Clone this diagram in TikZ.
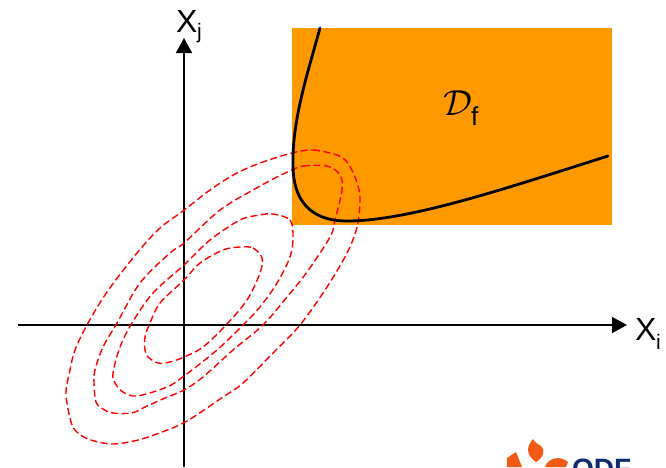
\documentclass[tikz,border=0pt]{standalone}
\usepackage{fontspec}
\setmainfont{Liberation Sans}
\usetikzlibrary{arrows.meta}
\definecolor{regionorange}{RGB}{255,153,0}
\definecolor{logoorange}{RGB}{240,90,20}
\definecolor{logoblue}{RGB}{15,45,110}
\tikzset{
  axis/.style={line width=1.5pt,-{Triangle[length=15pt,width=16pt]}},
  contour/.style={red,line width=1.4pt,dash pattern=on 7pt off 3.5pt,smooth cycle,tension=0.55},
  boundary/.style={black,line width=2.8pt,line cap=round},
  axislabel/.style={inner sep=0pt,font=\fontsize{32}{32}\selectfont,anchor=base west},
  sublabel/.style={inner sep=0pt,font=\fontsize{21}{21}\selectfont,anchor=base west}
}
\begin{document}
\begin{tikzpicture}[x=1pt,y=-1pt]
\useasboundingbox (0,0) rectangle (666,467);
\fill[regionorange] (292,28) rectangle (612,225);
% axes
\coordinate (xs) at (18,325);
\coordinate (xe) at (627,325);
\coordinate (ys) at (184,467);
\coordinate (ye) at (184,38);
\draw[axis] (xs) -- (xe);
\draw[axis] (ys) -- (ye);
% contours
\draw[contour] plot coordinates {(292,153)(313,150)(337,155)(347,162)(355,177)(360,197)(357,227)(347,253)(327,287)(300,325)(273,353)(243,383)(223,397)(187,421)(162,432)(138,440)(112,444)(88,439)(75,430)(70,418)(66,393)(70,370)(75,350)(87,325)(107,292)(137,253)(160,228)(183,211)(210,190)(237,173)(263,162)};
\draw[contour] plot coordinates {(292,170)(303,166)(327,166)(340,175)(342,190)(335,220)(330,237)(307,272)(287,297)(263,325)(233,350)(203,377)(184,390)(165,398)(145,407)(132,413)(113,413)(103,409)(96,402)(94,383)(95,370)(103,347)(117,323)(140,283)(170,253)(184,243)(220,210)(253,190)(277,177)};
\draw[contour] plot coordinates {(273,214)(290,220)(293,237)(290,257)(277,283)(260,307)(243,325)(217,350)(184,376)(167,387)(137,396)(123,392)(115,383)(113,373)(120,347)(132,323)(153,293)(184,265)(210,240)(240,220)(260,215)};
\draw[contour] plot coordinates {(240,247)(253,248)(262,258)(260,273)(247,300)(226,325)(203,347)(184,357)(170,362)(158,363)(148,357)(145,350)(145,337)(150,323)(160,303)(184,280)(200,263)(223,250)};
% boundary curve
\draw[boundary] (320,28) .. controls (308,72) and (292,120) .. (293,165) .. controls (293,200) and (310,221) .. (347,221) .. controls (410,221) and (510,187) .. (608,156);
% labels
\node[axislabel] (xj) at (176,32) {X};
\node[sublabel] (xjs) at (197,38) {j};
\node[axislabel] (xi) at (635,340) {X};
\node[sublabel] (xis) at (656,349) {i};
\node[inner sep=0pt,anchor=base west,font=\fontsize{24.88}{25}\selectfont,scale=1.45] (df) at (443,115) {$\mathcal{D}$};
\node[sublabel,font=\fontsize{26}{26}\selectfont] (dfs) at (471,125) {f};
% logo fragment
\begin{scope}
\clip (507,436) rectangle (633,467);
\fill[logoorange] (533,439) .. controls (526,447) and (526,455) .. (536,462) .. controls (543,458) and (546,450) .. (541,446) .. controls (538,444) and (535,443) .. (533,439) -- cycle;
\fill[logoorange] (507,467) -- (507,458) -- (516,452) -- (522,467) -- cycle;
\fill[logoorange] (545,467) .. controls (548,458) and (560,455) .. (568,462) -- (566,467) -- cycle;
\node[inner sep=0pt,anchor=base west,text=logoblue,font=\bfseries\fontsize{28}{28}\selectfont] (logo) at (572,478) {ODF};
\end{scope}
\end{tikzpicture}
\end{document}
